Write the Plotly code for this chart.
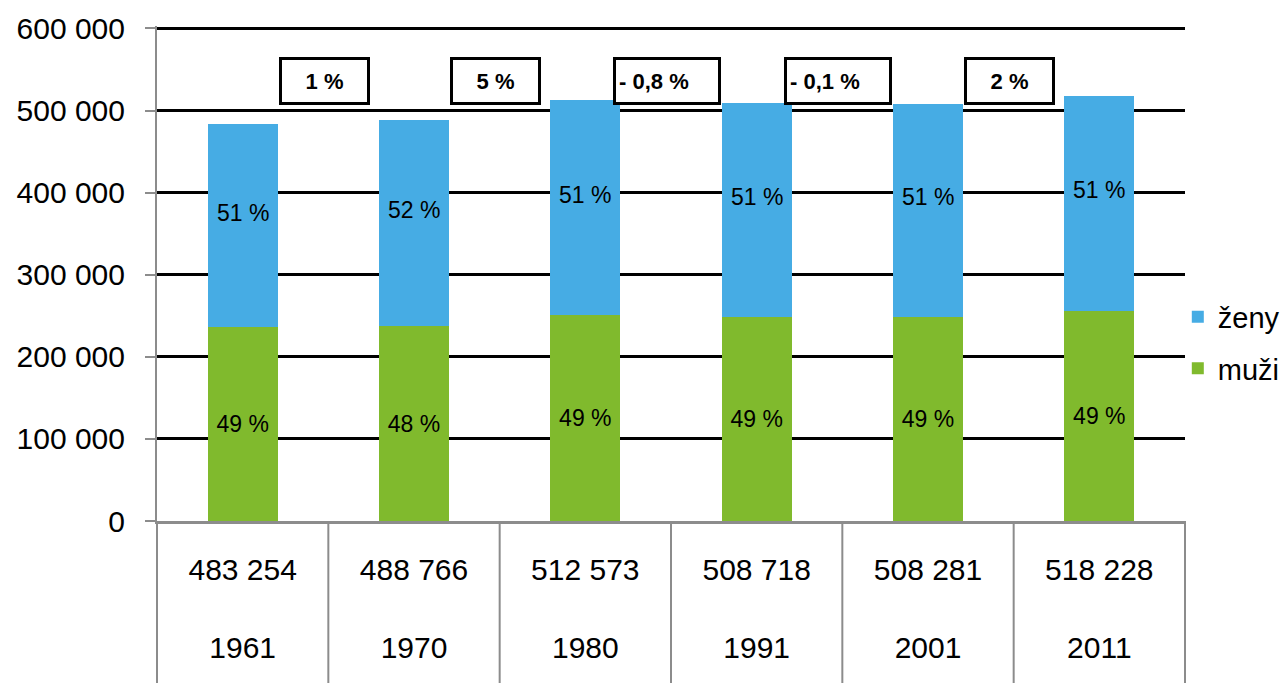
import plotly.graph_objects as go

years = ["1961", "1970", "1980", "1991", "2001", "2011"]
totals = ["483 254", "488 766", "512 573", "508 718", "508 281", "518 228"]
muzi = [236000, 237000, 251000, 249000, 249000, 256000]
zeny = [247254, 251766, 261573, 259718, 259281, 262228]
muzi_pct = ["49 %", "48 %", "49 %", "49 %", "49 %", "49 %"]
zeny_pct = ["51 %", "52 %", "51 %", "51 %", "51 %", "51 %"]
changes = ["1 %", "5 %", "- 0,8 %", "- 0,1 %", "2 %"]
y_ticks = [0, 100000, 200000, 300000, 400000, 500000, 600000]

BLUE = "#46ACE4"
GREEN = "#80BA2D"
GRAY = "#8C8C8C"
FONT = "Liberation Sans, Arial, sans-serif"

xs = list(range(len(years)))

fig = go.Figure()
fig.add_trace(go.Bar(
    x=xs, y=muzi, name="muži", marker=dict(color=GREEN, line=dict(width=0)),
    text=muzi_pct, textposition="inside", insidetextanchor="middle",
    textfont=dict(size=23, color="black", family=FONT), textangle=0,
    constraintext="none", width=0.41, legendrank=2, legendgroup="m",
))
fig.add_trace(go.Bar(
    x=xs, y=zeny, name="ženy", marker=dict(color=BLUE, line=dict(width=0)),
    textposition="none", width=0.41, legendrank=1, legendgroup="z",
))

annotations = []
# women's share labels, slightly above the middle of the blue segment
for i in xs:
    annotations.append(dict(
        x=i, y=muzi[i] + zeny[i] / 2, xref="x", yref="y", text=zeny_pct[i],
        showarrow=False, yshift=13, font=dict(size=23, color="black", family=FONT),
    ))
for i, c in enumerate(changes):
    neg = c.startswith("-")
    annotations.append(dict(
        x=i + 0.5, y=535500, xref="x", yref="y", text="<b>" + c + "</b>",
        showarrow=False, font=dict(size=22, color="black", family=FONT),
        bgcolor="white", bordercolor="black", borderwidth=3, borderpad=3,
        width=96 if neg else 79, height=36, align="left" if neg else "center",
        xshift=-4,
    ))

shapes = []
# category dividers below the axis
for i in range(1, len(years)):
    shapes.append(dict(type="line", xref="x", yref="paper", x0=i - 0.5, x1=i - 0.5,
                       y0=0, y1=-0.36, line=dict(color=GRAY, width=2)))
for px in (0, 1):
    shapes.append(dict(type="line", xref="paper", yref="paper", x0=px, x1=px,
                       y0=0, y1=-0.36, line=dict(color=GRAY, width=2)))

fig.update_layout(
    barmode="stack",
    width=1288, height=683,
    margin=dict(l=149, r=111, t=18, b=170, autoexpand=False),
    paper_bgcolor="white", plot_bgcolor="white",
    font=dict(family=FONT, color="black"),
    separators=", ",
    annotations=annotations,
    shapes=shapes,
    legend=dict(x=0.993, xanchor="left", y=0.36, yanchor="middle",
                traceorder="grouped", tracegroupgap=11,
                font=dict(size=29, color="black", family=FONT),
                bgcolor="rgba(0,0,0,0)"),
    xaxis=dict(
        range=[-0.5, 5.5], tickmode="array", tickvals=xs,
        ticktext=[t + "<br><br>" + y for t, y in zip(totals, years)],
        tickfont=dict(size=30, color="black", family=FONT),
        showline=True, linecolor=GRAY, linewidth=3, ticks="",
        showgrid=False, zeroline=False, ticklabelstandoff=20, automargin=False,
    ),
    yaxis=dict(
        range=[0, 603000], tickmode="array", tickvals=y_ticks, tickformat=",d",
        tickfont=dict(size=30, color="black", family=FONT),
        showline=True, linecolor=GRAY, linewidth=2,
        ticks="outside", ticklen=10, tickcolor=GRAY, tickwidth=2,
        showgrid=True, gridcolor="black", gridwidth=3, zeroline=False,
        ticklabelstandoff=14, automargin=False,
    ),
)

fig.write_html("out.html")
